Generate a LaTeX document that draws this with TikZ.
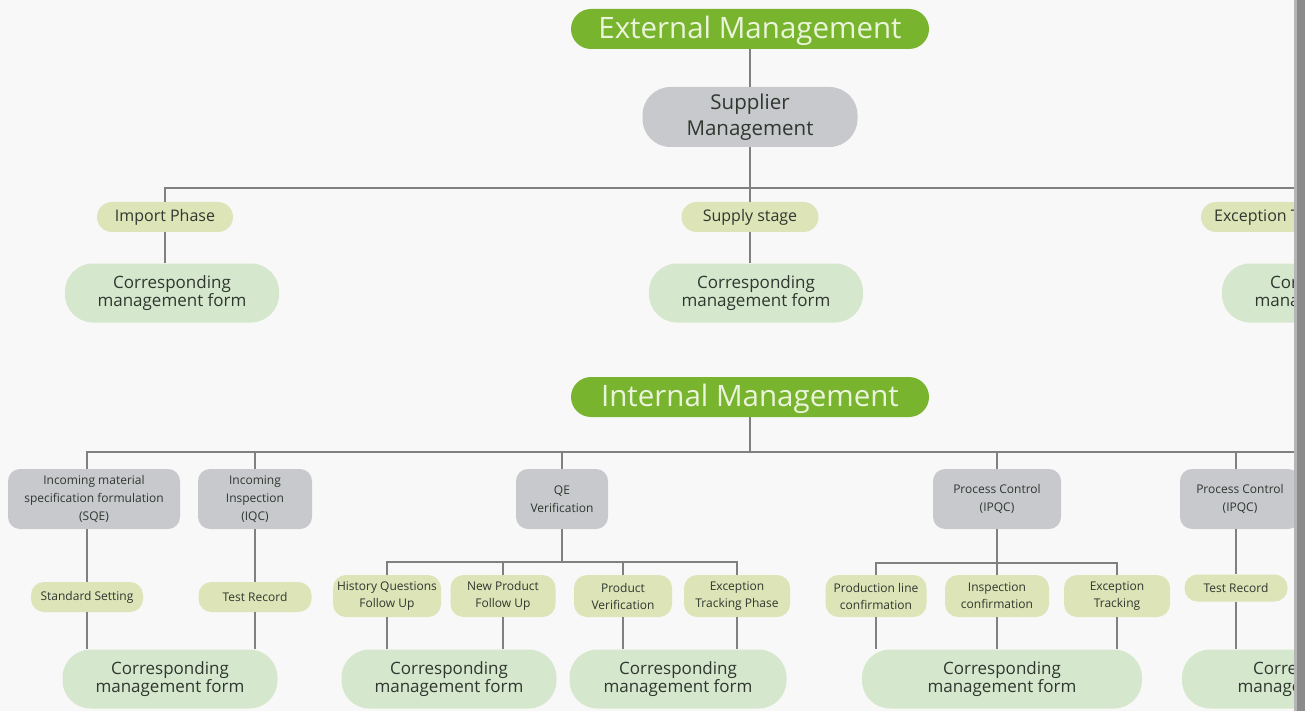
\documentclass[tikz,border=0pt]{standalone}
\usepackage{fontspec}
\setmainfont{Open Sans}
\definecolor{bgc}{HTML}{F8F8F8}
\definecolor{hdrgreen}{HTML}{78B42E}
\definecolor{hdrtext}{HTML}{EAF4DA}
\definecolor{boxgrey}{HTML}{C8C9CD}
\definecolor{olivec}{HTML}{DDE4B8}
\definecolor{formc}{HTML}{D5E7CD}
\definecolor{txt}{HTML}{2F372F}
\definecolor{linec}{HTML}{808080}
\definecolor{barc}{HTML}{8A8A8A}
\definecolor{barl}{HTML}{B5B5B5}
\tikzset{
  sz/.style 2 args={minimum width=#1pt, minimum height=#2pt},
  hdr/.style={fill=hdrgreen, rounded corners=20pt, text=hdrtext, inner sep=0pt,
    text height=21pt, text depth=2pt,
    font=\fontsize{29.5}{29.5}\selectfont},
  supbox/.style={fill=boxgrey, rounded corners=28pt, text=txt, inner sep=0pt, align=center,
    font=\fontsize{20.5}{26}\selectfont},
  greybox/.style={fill=boxgrey, rounded corners=12pt, text=txt, inner sep=0pt, align=center,
    font=\fontsize{12}{18}\selectfont},
  olivebig/.style={fill=olivec, rounded corners=15pt, text=txt, inner sep=0pt, align=center,
    font=\fontsize{16}{18}\selectfont},
  olivesm/.style={fill=olivec, rounded corners=13pt, text=txt, inner sep=0pt, align=center,
    font=\fontsize{12}{17}\selectfont},
  formbox/.style={fill=formc, rounded corners=28pt, text=txt, inner sep=0pt, align=center,
    font=\fontsize{17}{18}\selectfont},
  conn/.style={draw=linec, line width=1.2pt}
}
\begin{document}
\begin{tikzpicture}[x=1pt,y=-1pt]
\useasboundingbox (0,0) rectangle (1305,711);
\fill[bgc] (0,0) rectangle (1305,711);
\begin{scope}
\clip (0,0) rectangle (1294,711);
\coordinate (tb) at (0,188);
\coordinate (ib) at (0,452);
\coordinate (qb) at (0,562);
\coordinate (pb) at (0,563);
\coordinate (re) at (1320,0);

% ---------- External ----------
\node[hdr, sz={358}{40}] (ext) at (750,29) {External Management};
\node[supbox, sz={215}{60}] (sup) at (750,117) {Supplier\\Management};
\node[olivebig, sz={136}{30}] (imp) at (165,217) {Import Phase};
\node[olivebig, sz={137}{30}] (sups) at (750,217) {Supply stage};
\node[olivebig, sz={214}{30}] (exc) at (1308,217) {Exception Tracking Phase};
\node[formbox, sz={214}{59}] (f1) at (172,293) {Corresponding\\management form};
\node[formbox, sz={214}{59}] (f2) at (756,293) {Corresponding\\management form};
\node[formbox, sz={214}{59}] (f3) at (1329,293) {Corresponding\\management form};

% ---------- Internal ----------
\node[hdr, sz={358}{40}] (int) at (750,397) {Internal Management};
\node[greybox, sz={172}{60}] (sqe) at (94,499) {Incoming material\\specification formulation\\(SQE)};
\node[greybox, sz={114}{60}] (iqc) at (255,499) {Incoming\\Inspection\\(IQC)};
\node[greybox, sz={92}{60}] (qe) at (562,499) {QE\\Verification};
\node[greybox, sz={128}{60}] (pc) at (997,499) {Process Control\\(IPQC)};
\node[greybox, sz={120}{60}] (pc2) at (1240,499) {Process Control\\(IPQC)};

\node[olivesm, sz={112}{30}] (ss) at (87,597) {Standard Setting};
\node[olivesm, sz={113}{30}] (tr) at (255,597) {Test Record};
\node[olivesm, sz={108}{42}] (hq) at (387,596) {History Questions\\Follow Up};
\node[olivesm, sz={105}{42}] (np) at (503,596) {New Product\\Follow Up};
\node[olivesm, sz={98}{42}] (pv) at (623,596) {Product\\Verification};
\node[olivesm, sz={106}{42}] (et) at (737,596) {Exception\\Tracking Phase};
\node[olivesm, sz={101}{42}] (pl) at (876,596) {Production line\\confirmation};
\node[olivesm, sz={104}{42}] (ic) at (997,596) {Inspection\\confirmation};
\node[olivesm, sz={106}{42}] (et2) at (1117,596) {Exception\\Tracking};
\node[olivesm, sz={103}{27}] (tr2) at (1236,588) {Test Record};

\node[formbox, sz={215}{59}] (g1) at (170,679) {Corresponding\\management form};
\node[formbox, sz={215}{59}] (g2) at (449,679) {Corresponding\\management form};
\node[formbox, sz={217}{59}] (g3) at (678,679) {Corresponding\\management form};
\node[formbox, sz={280}{59}] (g4) at (1002,679) {Corresponding\\management form};
\node[formbox, sz={260}{59}] (g5) at (1312,679) {Corresponding\\management form};

% ---------- connectors: external ----------
\draw[conn] (ext) -- (sup);
\draw[conn] (sup.south) -- (sup.south |- tb);
\draw[conn] (imp.north) |- (tb -| re);
\draw[conn] (sups.north) -- (sups.north |- tb);
\draw[conn] (exc.north) -- (exc.north |- tb);
\draw[conn] (imp.south) -- (imp.south |- f1.north);
\draw[conn] (sups.south) -- (sups.south |- f2.north);
\draw[conn] (exc.south) -- (exc.south |- f3.north);

% ---------- connectors: internal ----------
\draw[conn] (int.south) -- (int.south |- ib);
\draw[conn] (sqe.north -| ss.center) |- (ib -| re);
\draw[conn] (iqc.north) -- (iqc.north |- ib);
\draw[conn] (qe.north) -- (qe.north |- ib);
\draw[conn] (pc.north) -- (pc.north |- ib);
\draw[conn] (pc2.north -| tr2.center) -- (ib -| tr2.center);

\draw[conn] (sqe.south -| ss.center) -- (ss.north);
\draw[conn] (ss.south) -- (ss.south |- g1.north);
\draw[conn] (iqc.south) -- (tr.north);
\draw[conn] (tr.south) -- (tr.south |- g1.north);

\draw[conn] (qe.south) -- (qe.south |- qb);
\draw[conn] (hq.north) |- (qb -| et.center) -- (et.north);
\draw[conn] (np.north) -- (np.north |- qb);
\draw[conn] (pv.north) -- (pv.north |- qb);
\draw[conn] (hq.south) -- (hq.south |- g2.north);
\draw[conn] (np.south) -- (np.south |- g2.north);
\draw[conn] (pv.south) -- (pv.south |- g3.north);
\draw[conn] (et.south) -- (et.south |- g3.north);

\draw[conn] (pc.south) -- (pc.south |- pb);
\draw[conn] (pl.north) |- (pb -| et2.center) -- (et2.north);
\draw[conn] (ic.north) -- (ic.north |- pb);
\draw[conn] (pl.south) -- (pl.south |- g4.north);
\draw[conn] (ic.south) -- (ic.south |- g4.north);
\draw[conn] (et2.south) -- (et2.south |- g4.north);

\draw[conn] (pc2.south -| tr2.center) -- (tr2.north);
\draw[conn] (tr2.south) -- (tr2.south |- g5.north);
\end{scope}
\fill[barl] (1294,0) rectangle (1297,711);
\fill[barc] (1297,0) rectangle (1305,711);
\end{tikzpicture}
\end{document}
